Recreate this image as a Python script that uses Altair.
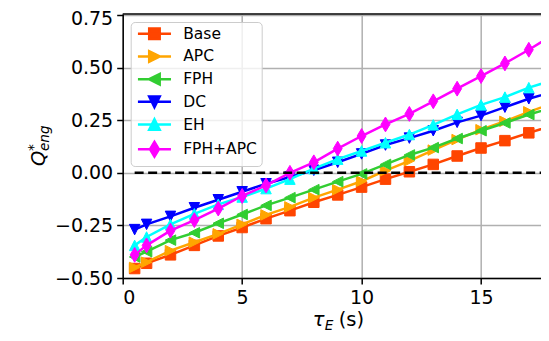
import altair as alt
import pandas as pd

# ---- data ----
tau = [0.5, 1, 2, 3, 4, 5, 6, 7, 8, 9, 10, 11, 12, 13, 14, 15, 16, 17, 18]
base = [-0.455, -0.43, -0.39, -0.345, -0.30, -0.26, -0.218, -0.18, -0.14, -0.105,
        -0.068, -0.03, 0.005, 0.04, 0.08, 0.118, 0.153, 0.19, 0.225]
apc = [-0.45, -0.425, -0.37, -0.33, -0.29, -0.245, -0.20, -0.162, -0.118, -0.08,
       -0.04, 0.01, 0.057, 0.108, 0.158, 0.205, 0.245, 0.29, 0.33]
fph = [-0.40, -0.375, -0.32, -0.285, -0.24, -0.198, -0.155, -0.118, -0.08, -0.042,
       -0.005, 0.04, 0.085, 0.12, 0.163, 0.20, 0.237, 0.277, 0.31]
dc = [-0.27, -0.245, -0.207, -0.166, -0.128, -0.09, -0.052, -0.02, 0.012, 0.05,
      0.09, 0.132, 0.165, 0.20, 0.24, 0.272, 0.312, 0.352, 0.385]
eh = [-0.345, -0.305, -0.245, -0.195, -0.15, -0.115, -0.075, -0.03, 0.02, 0.065,
      0.104, 0.143, 0.182, 0.228, 0.278, 0.323, 0.36, 0.405, 0.44]
fph_apc = [-0.39, -0.345, -0.275, -0.225, -0.17, -0.11, -0.06, 0.0, 0.05, 0.115,
           0.175, 0.23, 0.28, 0.34, 0.40, 0.46, 0.52, 0.585, 0.655]

series_names = ["Base", "APC", "FPH", "DC", "EH", "FPH+APC"]
series_values = [base, apc, fph, dc, eh, fph_apc]
colors = ["#ff4500", "#ffa500", "#32cd32", "#0000ff", "#00ffff", "#ff00ff"]

zero_tau = [0.5, 18]
zero_q = [0.0, 0.0]

x_ticks = [0, 5, 10, 15]
y_ticks = [-0.5, -0.25, 0.0, 0.25, 0.5, 0.75]
x_domain = [0, 17.51]
y_domain = [-0.5, 0.755]

# marker shapes (matplotlib-like: s, >, <, v, ^, d)
marker_paths = [
    "M-1,-1L1,-1L1,1L-1,1Z",
    "M1,0L-1,-1L-1,1Z",
    "M-1,0L1,-1L1,1Z",
    "M0,1L-1,-1L1,-1Z",
    "M0,-1L1,1L-1,1Z",
    "M0,-1.414L0.849,0L0,1.414L-0.849,0Z",
]
legend_paths = ["M-3.15,0L3.15,0" + p for p in marker_paths]

rows = []
for name, vals in zip(series_names, series_values):
    for t, v in zip(tau, vals):
        rows.append({"tau": t, "Q": v, "series": name})
df = pd.DataFrame(rows)
zero_df = pd.DataFrame({"tau": zero_tau, "Q": zero_q})

W, H = 418.3, 264
font = "DejaVu Sans"

xscale = alt.Scale(domain=x_domain, nice=False, zero=False)
yscale = alt.Scale(domain=y_domain, nice=False, zero=False)
x_enc = alt.X("tau:Q", scale=xscale,
              axis=alt.Axis(values=x_ticks, format="d", title=None))
y_enc = alt.Y("Q:Q", scale=yscale,
              axis=alt.Axis(values=y_ticks, format=".2f", title=None,
                            labelOffset={"condition": {"test": "datum.value >= 0.7", "value": 3},
                                         "value": 0},
                            labelExpr="replace(datum.label, '-', '\u2212')"))

layers = []
for name, color, path in zip(series_names, colors, marker_paths):
    sub = alt.Chart(df).transform_filter(alt.datum.series == name)
    layers.append(sub.mark_line(color=color, strokeWidth=2.5, clip=True)
                  .encode(x=x_enc, y=y_enc))
    layers.append(sub.mark_point(shape=path, filled=True, fill=color, stroke=color,
                                 strokeWidth=1, size=110, opacity=1, clip=True)
                  .encode(x=x_enc, y=y_enc))

# dashed zero line
layers.append(alt.Chart(zero_df).mark_line(color="black", strokeDash=[9, 4.5],
                                           strokeWidth=2.5, clip=True)
              .encode(x=x_enc, y=y_enc))

# top spine at the top of the y domain
layers.append(alt.Chart(pd.DataFrame({"Q": [y_domain[1]]}))
              .mark_rule(color="black", strokeWidth=1.5)
              .encode(y=alt.Y("Q:Q", scale=yscale)))

# legend (line + marker symbols), points themselves are clipped away
leg = alt.Legend(title=None)
cscale = alt.Scale(domain=series_names, range=colors)
layers.append(alt.Chart(df).mark_point(filled=True, opacity=1, strokeWidth=2.5, clip=True)
              .encode(x=x_enc, y=alt.value(-60),
                      fill=alt.Fill("series:N", scale=cscale, legend=leg),
                      stroke=alt.Stroke("series:N", scale=cscale, legend=leg),
                      shape=alt.Shape("series:N",
                                      scale=alt.Scale(domain=series_names, range=legend_paths),
                                      legend=leg)))

# axis titles with sub/superscripts
def txt(s, x, y, size, italic=False, angle=0):
    return (alt.Chart(pd.DataFrame({"t": [s]}))
            .mark_text(font=font, fontSize=size, fontStyle="italic" if italic else "normal",
                       align="left", baseline="alphabetic", angle=angle, color="black")
            .encode(text="t:N", x=alt.value(x), y=alt.value(y)))

x_title = [("\u03c4", 190, 312, 19.5, True), ("E", 202, 315.5, 13.6, True), ("(s)", 216, 312, 19.5, False)]
for s, x, y, size, it in x_title:
    layers.append(txt(s, x, y, size, it))

y_title = [("Q", -78, 152, 19.5, True, 270), ("*", -85, 137, 13.6, False, 270),
           ("eng", -74, 137, 13.6, True, 270)]
for s, x, y, size, it, ang in y_title:
    layers.append(txt(s, x, y, size, it, ang))

chart = (alt.layer(*layers)
         .properties(width=W, height=H,
                     padding={"left": 114.7, "top": 6, "right": 0, "bottom": 55},
                     autosize=alt.AutoSizeParams(type="none"))
         .configure_view(stroke=None)
         .configure_axis(labelFont=font, labelFontSize=19, labelColor="black",
                         domainColor="black", domainWidth=1.5,
                         tickColor="black", tickWidth=1.5, tickSize=6, labelPadding=4,
                         gridColor="#b0b0b0", gridWidth=1.5, gridOpacity=1)
         .configure_legend(orient="top-left", offset=8, padding=4,
                           fillColor="rgba(255,255,255,0.8)", strokeColor="#cccccc",
                           cornerRadius=4, labelFont=font, labelFontSize=15.5,
                           labelColor="black", symbolSize=110, symbolStrokeWidth=2.5,
                           rowPadding=1.7, symbolOffset=12, labelOffset=21))

chart.save("out.html", embed_options={"renderer": "svg", "actions": False})
